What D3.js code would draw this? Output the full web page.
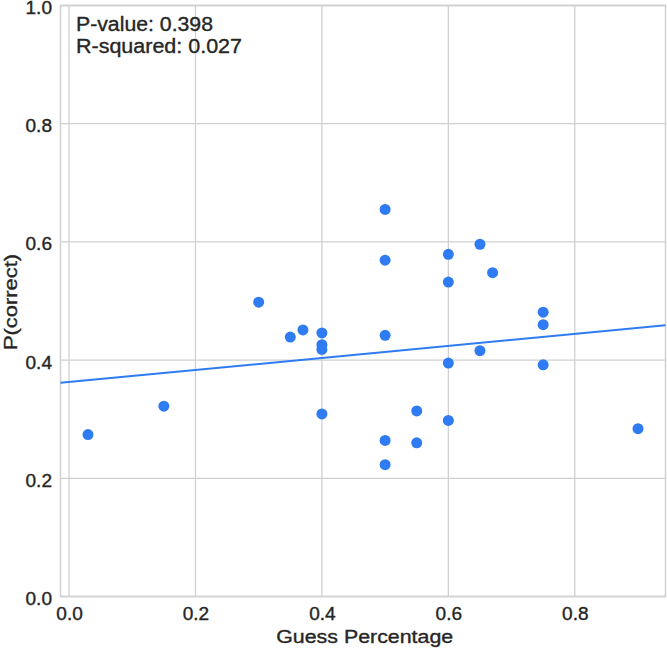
<!DOCTYPE html>
<html>
<head>
<meta charset="utf-8">
<script src="https://cdn.jsdelivr.net/npm/d3@7"></script>
<style>
  html, body { margin: 0; padding: 0; background: #ffffff; }
  svg { display: block; }
  text { font-family: "Liberation Sans", Arial, Helvetica, sans-serif; fill: #262626; stroke: #262626; stroke-width: 0.35px; }
</style>
</head>
<body>
<svg id="chart" width="667" height="648"></svg>
<script>
// ---- data ----
const guessPct = [0.03, 0.15, 0.30, 0.35, 0.37, 0.40, 0.40, 0.40, 0.40,
                  0.50, 0.50, 0.50, 0.50, 0.50, 0.55, 0.55,
                  0.60, 0.60, 0.60, 0.60, 0.65, 0.65, 0.67,
                  0.75, 0.75, 0.75, 0.90];
const pCorrect = [0.274, 0.322, 0.498, 0.439, 0.451, 0.446, 0.426, 0.418, 0.309,
                  0.655, 0.569, 0.442, 0.264, 0.223, 0.314, 0.260,
                  0.579, 0.532, 0.395, 0.298, 0.596, 0.416, 0.548,
                  0.481, 0.460, 0.392, 0.284];
const fitIntercept = 0.363;
const fitSlope = 0.1016;
const xTicks = [0.0, 0.2, 0.4, 0.6, 0.8];
const yTicks = [0.0, 0.2, 0.4, 0.6, 0.8, 1.0];
const xDomain = [-0.0135, 0.9435];
const yDomain = [0, 1];
const annotations = ["P-value: 0.398", "R-squared: 0.027"];
const xLabel = "Guess Percentage";
const yLabel = "P(correct)";

// ---- layout ----
const svg = d3.select("#chart");
const mLeft = 60.5, mRight = 665.5, mTop = 5.5, mBottom = 596.5;
const x = d3.scaleLinear().domain(xDomain).range([mLeft, mRight]);
const y = d3.scaleLinear().domain(yDomain).range([mBottom, mTop]);
const gridColor = "#d0d0d0";
const dotColor = "#2f7bf2";

// grid
svg.append("g").selectAll("line").data(xTicks).join("line")
  .attr("x1", d => x(d)).attr("x2", d => x(d))
  .attr("y1", mTop).attr("y2", mBottom)
  .attr("stroke", gridColor).attr("stroke-width", 1.3);
svg.append("g").selectAll("line").data(yTicks).join("line")
  .attr("x1", mLeft).attr("x2", mRight)
  .attr("y1", d => y(d)).attr("y2", d => y(d))
  .attr("stroke", gridColor).attr("stroke-width", 1.3);

// spines
svg.append("rect").attr("x", mLeft).attr("y", mTop)
  .attr("width", mRight - mLeft).attr("height", mBottom - mTop)
  .attr("fill", "none").attr("stroke", gridColor).attr("stroke-width", 1.5);

// axes (labels only, using d3 axes)
const fmt = d3.format(".1f");
const xAxis = svg.append("g").attr("transform", `translate(0,${mBottom})`)
  .call(d3.axisBottom(x).tickValues(xTicks).tickFormat(fmt).tickSize(0));
const yAxis = svg.append("g").attr("transform", `translate(${mLeft},0)`)
  .call(d3.axisLeft(y).tickValues(yTicks).tickFormat(fmt).tickSize(0));
[xAxis, yAxis].forEach(g => {
  g.select(".domain").remove();
  g.selectAll("text").attr("font-size", 17.5).attr("fill", "#262626")
    .attr("font-family", "'Liberation Sans', Arial, sans-serif")
    .attr("textLength", 26.5).attr("lengthAdjust", "spacingAndGlyphs");
});
xAxis.selectAll("text").attr("y", 23).attr("dy", null);
yAxis.selectAll("text").attr("x", -8.5).attr("dy", null).attr("y", 8);

// regression line across full axes
svg.append("line")
  .attr("x1", x(xDomain[0])).attr("y1", y(fitIntercept + fitSlope * xDomain[0]))
  .attr("x2", x(xDomain[1])).attr("y2", y(fitIntercept + fitSlope * xDomain[1]))
  .attr("stroke", dotColor).attr("stroke-width", 2);

// points
svg.append("g").selectAll("circle").data(guessPct.map((g, i) => [g, pCorrect[i]])).join("circle")
  .attr("cx", d => x(d[0])).attr("cy", d => y(d[1])).attr("r", 5.5)
  .attr("fill", dotColor);

// annotation
const annLen = [137, 166];
svg.append("g").selectAll("text").data(annotations).join("text")
  .attr("x", 76).attr("y", (d, i) => 30.7 + i * 22.6)
  .attr("font-size", 20)
  .attr("textLength", (d, i) => annLen[i]).attr("lengthAdjust", "spacingAndGlyphs")
  .text(d => d);

// axis labels
svg.append("text").attr("x", 364.7).attr("y", 642.7)
  .attr("text-anchor", "middle").attr("font-size", 18.7)
  .attr("textLength", 177).attr("lengthAdjust", "spacingAndGlyphs").text(xLabel);
svg.append("text").attr("transform", `translate(17.3,${(mTop + mBottom) / 2 + 1}) rotate(-90)`)
  .attr("text-anchor", "middle").attr("font-size", 18.7)
  .attr("textLength", 96).attr("lengthAdjust", "spacingAndGlyphs").text(yLabel);
</script>
</body>
</html>
